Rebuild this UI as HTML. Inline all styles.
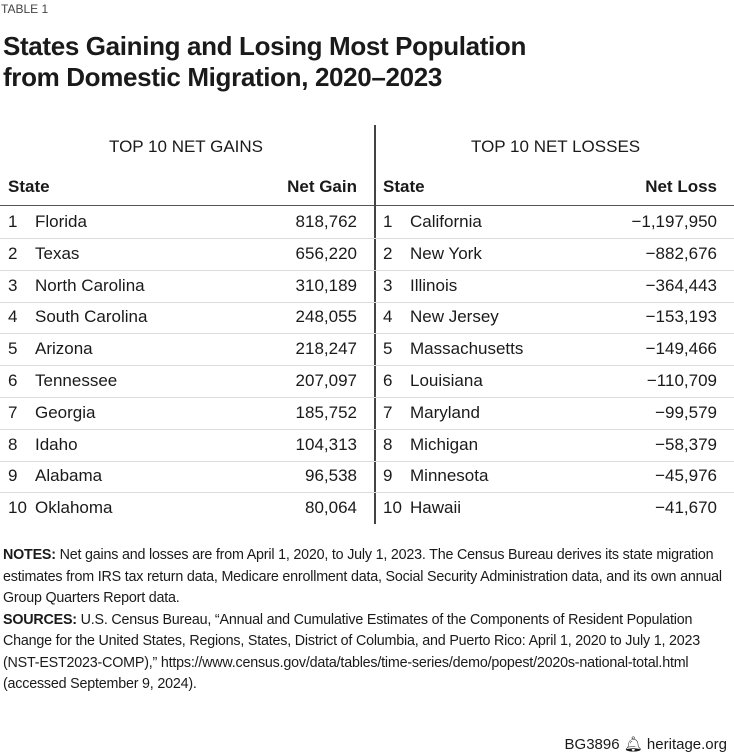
<!DOCTYPE html>
<html><head><meta charset="utf-8"><style>
body{margin:0;width:734px;height:755px;background:#fff;font-family:"Liberation Sans",sans-serif;color:#1a1a1a;position:relative;overflow:hidden}
.a{position:absolute;white-space:nowrap}
.t{font-size:17px;line-height:20px}
.h{font-size:17px;font-weight:bold;line-height:20px}
.r{text-align:right}
.ln{position:absolute;height:1px}
.notes{position:absolute;left:3px;top:545px;width:728px;font-size:14.3px;line-height:21.5px;letter-spacing:-0.2px}
</style></head><body>
<div class="a" style="left:1px;top:2px;font-size:12px;color:#444">TABLE 1</div>
<div class="a" style="left:3px;top:31px;font-size:26px;font-weight:bold;line-height:31px;letter-spacing:-0.35px">States Gaining and Losing Most Population<br>from Domestic Migration, 2020–2023</div>
<div class="a t" style="left:109px;top:137px">TOP 10 NET GAINS</div>
<div class="a t" style="left:471px;top:137px">TOP 10 NET LOSSES</div>
<div class="a h" style="left:8px;top:177px">State</div>
<div class="a h r" style="left:200px;width:157px;top:177px">Net Gain</div>
<div class="a h" style="left:383px;top:177px">State</div>
<div class="a h r" style="left:560px;width:157px;top:177px">Net Loss</div>
<div class="ln" style="left:0;width:734px;top:205px;background:#555"></div>
<div class="a" style="left:374px;top:125px;width:1.5px;height:399px;background:#444"></div>
<div id="rows"></div>
<div class="notes"><b>NOTES:</b> Net gains and losses are from April 1, 2020, to July 1, 2023. The Census Bureau derives its state migration estimates from IRS tax return data, Medicare enrollment data, Social Security Administration data, and its own annual Group Quarters Report data.<br><b>SOURCES:</b> U.S. Census Bureau, “Annual and Cumulative Estimates of the Components of Resident Population Change for the United States, Regions, States, District of Columbia, and Puerto Rico: April 1, 2020 to July 1, 2023 (NST-EST2023-COMP),” https://www.census.gov/data/tables/time-series/demo/popest/2020s-national-total.html (accessed September 9, 2024).</div>
<div class="a" style="right:7px;top:735px;font-size:15px">BG3896 &#x1F514;&#xFE0E; heritage.org</div>
<script>
const gainStates=["Florida","Texas","North Carolina","South Carolina","Arizona","Tennessee","Georgia","Idaho","Alabama","Oklahoma"];
const gainValues=["818,762","656,220","310,189","248,055","218,247","207,097","185,752","104,313","96,538","80,064"];
const lossStates=["California","New York","Illinois","New Jersey","Massachusetts","Louisiana","Maryland","Michigan","Minnesota","Hawaii"];
const lossValues=["−1,197,950","−882,676","−364,443","−153,193","−149,466","−110,709","−99,579","−58,379","−45,976","−41,670"];
const R=document.getElementById('rows');
function add(cls,txt,st,name){const d=document.createElement('div');d.className='a t '+cls;d.textContent=txt;d.style.cssText=st;


R.appendChild(d);}
for(let i=0;i<10;i++){
 const y=212+i*31.8;
 add('',String(i+1),'left:8px;top:'+y+'px','gain-rank');
 add('',gainStates[i],'left:35px;top:'+y+'px','gain-state');
 add('r',gainValues[i],'left:200px;width:157px;top:'+y+'px','gain-value');
 add('',String(i+1),'left:383px;top:'+y+'px','loss-rank');
 add('',lossStates[i],'left:410px;top:'+y+'px','loss-state');
 add('r',lossValues[i],'left:500px;width:217px;top:'+y+'px','loss-value');
 if(i<9){const l=document.createElement('div');l.className='ln';l.style.cssText='left:0;width:734px;top:'+(y+25.9)+'px;background:#dcdcdc';
 
 
 R.appendChild(l);}
}
</script>
</body></html>
